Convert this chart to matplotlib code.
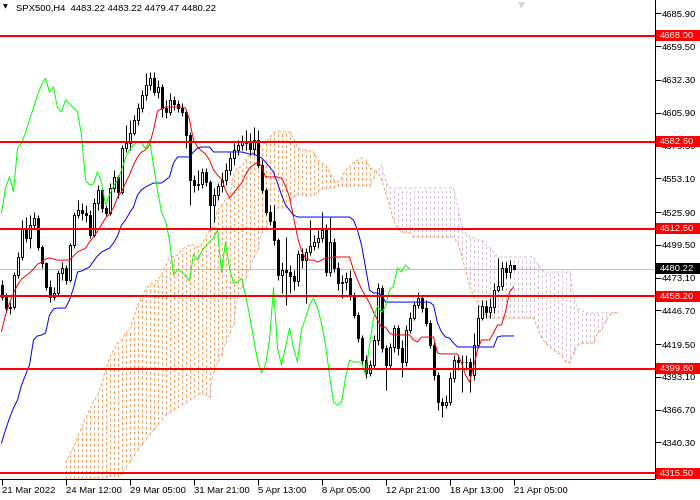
import numpy as np
import matplotlib
matplotlib.use('Agg')
import matplotlib.pyplot as plt
from matplotlib.patches import Rectangle
from matplotlib.transforms import blended_transform_factory

# Cabeçalho do gráfico.
symbol = 'SPX500,H4'
last_ohlc = [4483.22, 4483.22, 4479.47, 4480.22]

# Candles H4.
opens = [
    4467.1, 4457.4, 4448.6, 4449.4, 4475.2, 4489.7, 4513.0, 4505.0, 4515.5, 4521.1,
    4497.7, 4484.8, 4465.5, 4457.4, 4460.7, 4476.8, 4480.8, 4471.1, 4499.4, 4523.5,
    4527.5, 4525.1, 4523.5, 4507.4, 4533.2, 4543.7, 4529.2, 4525.1, 4545.3, 4554.2,
    4542.1, 4577.5, 4581.6, 4589.6, 4600.1, 4609.8, 4620.2, 4628.2, 4633.8, 4622.6,
    4626.6, 4609.8, 4606.5, 4616.2, 4613.0, 4609.8, 4606.5, 4588.0, 4551.7, 4547.7,
    4548.5, 4558.2, 4550.1, 4531.6, 4539.7, 4546.9, 4551.7, 4559.8, 4569.5, 4575.9,
    4580.0, 4582.4, 4581.6, 4576.7, 4584.0, 4563.8, 4543.7, 4525.9, 4518.7, 4503.4,
    4475.2, 4479.2, 4477.6, 4474.4, 4470.3, 4492.1, 4487.2, 4493.7, 4498.5, 4501.8,
    4505.0, 4511.4, 4477.6, 4501.8, 4480.8, 4468.7, 4469.5, 4472.7, 4459.1, 4443.0,
    4424.5, 4406.7, 4396.3, 4402.7, 4422.9, 4464.7, 4416.4, 4402.7, 4417.2, 4432.5,
    4416.4, 4405.1, 4430.9, 4440.5, 4451.0, 4456.6, 4448.6, 4436.5, 4418.8, 4394.7,
    4372.9, 4370.5, 4372.9, 4392.2, 4406.7, 4405.1, 4405.1, 4405.1, 4394.7, 4418.8,
    4440.5, 4450.2, 4445.4, 4449.4, 4463.1, 4466.3, 4480.8, 4477.6, 4483.22]
highs = [
    4471.1, 4460.7, 4453.4, 4477.6, 4493.7, 4519.5, 4521.9, 4523.5, 4525.9, 4523.5,
    4499.4, 4485.6, 4471.1, 4465.5, 4479.2, 4485.6, 4483.2, 4501.0, 4525.9, 4535.6,
    4533.2, 4531.6, 4527.5, 4537.2, 4547.7, 4546.1, 4531.6, 4549.3, 4559.8, 4555.8,
    4580.0, 4596.0, 4600.1, 4604.0, 4613.7, 4624.2, 4637.9, 4638.7, 4638.7, 4632.2,
    4629.0, 4616.2, 4621.8, 4619.3, 4616.2, 4613.7, 4608.1, 4590.4, 4555.8, 4559.8,
    4561.4, 4561.4, 4551.7, 4545.3, 4549.3, 4558.2, 4565.4, 4574.3, 4581.6, 4584.0,
    4588.0, 4592.0, 4589.6, 4594.4, 4592.0, 4567.8, 4545.3, 4531.6, 4531.6, 4505.0,
    4485.6, 4505.8, 4483.2, 4479.2, 4495.3, 4496.9, 4496.9, 4519.5, 4507.4, 4511.4,
    4525.9, 4516.3, 4521.9, 4505.0, 4485.6, 4475.2, 4477.6, 4479.2, 4461.5, 4445.4,
    4426.9, 4410.8, 4406.7, 4426.9, 4468.7, 4467.1, 4418.8, 4420.4, 4434.9, 4434.9,
    4422.9, 4434.9, 4445.4, 4453.4, 4461.5, 4459.1, 4455.1, 4438.9, 4421.3, 4397.1,
    4376.1, 4378.6, 4397.1, 4410.8, 4410.8, 4410.8, 4410.8, 4408.4, 4428.5, 4451.0,
    4455.1, 4455.1, 4456.6, 4468.7, 4488.9, 4485.6, 4485.6, 4487.2, 4483.22]
lows = [
    4455.1, 4445.4, 4443.8, 4447.8, 4472.7, 4487.2, 4501.8, 4496.9, 4513.0, 4495.3,
    4480.8, 4463.1, 4453.4, 4455.1, 4458.2, 4471.1, 4467.9, 4469.5, 4496.9, 4521.1,
    4519.5, 4517.9, 4505.0, 4505.8, 4527.5, 4525.9, 4522.7, 4523.5, 4542.1, 4537.2,
    4540.5, 4574.3, 4575.9, 4588.0, 4596.0, 4606.5, 4616.2, 4624.2, 4620.2, 4617.7,
    4602.5, 4601.6, 4604.0, 4608.1, 4606.5, 4603.3, 4577.5, 4531.6, 4542.1, 4543.7,
    4545.3, 4546.9, 4511.4, 4517.9, 4535.6, 4542.1, 4547.7, 4555.8, 4563.8, 4571.9,
    4575.9, 4575.9, 4571.9, 4571.9, 4561.4, 4541.3, 4523.5, 4515.5, 4499.4, 4471.1,
    4460.7, 4451.0, 4460.7, 4463.1, 4466.3, 4480.8, 4452.6, 4491.3, 4495.3, 4496.9,
    4501.8, 4474.4, 4474.4, 4477.6, 4463.1, 4456.6, 4463.1, 4455.1, 4440.5, 4421.3,
    4402.7, 4392.2, 4393.9, 4400.3, 4418.8, 4413.2, 4382.6, 4400.3, 4413.2, 4410.8,
    4393.1, 4401.9, 4428.5, 4438.9, 4448.6, 4445.4, 4434.1, 4416.4, 4390.6, 4366.4,
    4360.8, 4368.1, 4370.5, 4389.0, 4398.7, 4381.0, 4398.7, 4381.0, 4390.6, 4416.4,
    4438.9, 4440.5, 4440.5, 4444.6, 4461.5, 4463.1, 4472.7, 4472.7, 4479.47]
closes = [
    4457.4, 4448.6, 4449.4, 4475.2, 4489.7, 4513.0, 4505.0, 4515.5, 4521.1, 4497.7,
    4484.8, 4465.5, 4457.4, 4460.7, 4476.8, 4480.8, 4471.1, 4499.4, 4523.5, 4527.5,
    4525.1, 4523.5, 4507.4, 4533.2, 4543.7, 4529.2, 4525.1, 4545.3, 4554.2, 4542.1,
    4577.5, 4581.6, 4589.6, 4600.1, 4609.8, 4620.2, 4628.2, 4633.8, 4622.6, 4626.6,
    4609.8, 4606.5, 4616.2, 4613.0, 4609.8, 4606.5, 4588.0, 4551.7, 4547.7, 4548.5,
    4558.2, 4550.1, 4531.6, 4539.7, 4546.9, 4551.7, 4559.8, 4569.5, 4575.9, 4580.0,
    4582.4, 4581.6, 4576.7, 4584.0, 4563.8, 4543.7, 4525.9, 4518.7, 4503.4, 4475.2,
    4479.2, 4477.6, 4474.4, 4470.3, 4492.1, 4487.2, 4493.7, 4498.5, 4501.8, 4505.0,
    4511.4, 4477.6, 4501.8, 4480.8, 4468.7, 4469.5, 4472.7, 4459.1, 4443.0, 4424.5,
    4406.7, 4396.3, 4402.7, 4422.9, 4464.7, 4416.4, 4402.7, 4417.2, 4432.5, 4416.4,
    4405.1, 4430.9, 4440.5, 4451.0, 4456.6, 4448.6, 4436.5, 4418.8, 4394.7, 4372.9,
    4370.5, 4372.9, 4392.2, 4406.7, 4405.1, 4405.1, 4405.1, 4394.7, 4418.8, 4440.5,
    4450.2, 4445.4, 4449.4, 4463.1, 4466.3, 4480.8, 4477.6, 4483.2, 4480.22]

# Ichimoku: Tenkan-sen e Kijun-sen.
tenkan = [
    4430.0, 4443.0, 4452.6, 4460.7, 4467.1, 4471.9, 4474.4, 4476.8, 4480.0, 4484.0,
    4485.6, 4488.1, 4488.9, 4488.1, 4487.2, 4487.2, 4487.2, 4487.2, 4490.5, 4493.7,
    4495.3, 4496.9, 4501.8, 4505.8, 4510.6, 4515.5, 4521.1, 4524.3, 4529.2, 4538.0,
    4542.1, 4549.3, 4555.8, 4563.8, 4570.3, 4574.3, 4575.9, 4580.0, 4592.0, 4607.3,
    4608.9, 4610.5, 4610.5, 4610.5, 4610.5, 4610.5, 4609.8, 4600.1, 4584.0, 4578.3,
    4575.1, 4572.7, 4567.8, 4559.8, 4555.8, 4552.5, 4543.7, 4537.2, 4541.3, 4545.3,
    4549.3, 4555.8, 4561.4, 4563.8, 4566.2, 4563.0, 4554.2, 4554.2, 4554.2, 4554.2,
    4553.3, 4546.9, 4538.0, 4521.9, 4505.8, 4494.5, 4488.9, 4487.2, 4487.2, 4485.6,
    4487.2, 4488.9, 4488.9, 4489.7, 4489.7, 4489.7, 4489.7, 4489.7, 4479.2, 4471.1,
    4463.9, 4458.2, 4452.6, 4445.4, 4438.9, 4433.3, 4433.3, 4428.5, 4426.9, 4426.9,
    4426.9, 4426.9, 4426.9, 4422.9, 4421.3, 4425.2, 4425.2, 4425.2, 4425.2, 4412.4,
    4411.6, 4411.6, 4411.6, 4411.6, 4411.6, 4404.3, 4394.7, 4389.0, 4401.1, 4414.8,
    4422.9, 4422.9, 4422.9, 4428.5, 4434.9, 4434.9, 4445.4, 4461.5, 4465.5]
kijun = [
    4339.9, 4350.3, 4360.0, 4368.1, 4374.5, 4386.6, 4394.7, 4402.7, 4422.9, 4426.1,
    4426.9, 4428.5, 4443.0, 4447.8, 4448.6, 4448.6, 4448.6, 4455.1, 4464.7, 4477.6,
    4478.4, 4480.0, 4481.6, 4486.4, 4490.5, 4493.7, 4495.3, 4496.9, 4501.0, 4506.6,
    4515.5, 4519.5, 4525.1, 4530.0, 4539.7, 4543.7, 4546.1, 4547.7, 4549.3, 4549.3,
    4549.3, 4551.7, 4554.2, 4565.4, 4570.3, 4570.3, 4570.3, 4570.3, 4574.3, 4577.5,
    4578.3, 4578.3, 4578.3, 4574.3, 4574.3, 4574.3, 4574.3, 4574.3, 4574.3, 4574.3,
    4574.3, 4573.5, 4572.7, 4572.7, 4571.1, 4569.5, 4566.2, 4562.2, 4558.2, 4549.3,
    4539.7, 4531.6, 4527.5, 4523.5, 4521.9, 4521.9, 4521.9, 4521.9, 4521.9, 4521.9,
    4521.9, 4521.9, 4521.9, 4521.9, 4521.9, 4521.9, 4521.9, 4521.9, 4519.5, 4511.4,
    4499.4, 4481.6, 4463.1, 4460.7, 4460.7, 4459.1, 4453.4, 4453.4, 4453.4, 4453.4,
    4453.4, 4453.4, 4453.4, 4453.4, 4453.4, 4453.4, 4453.4, 4453.4, 4451.0, 4436.5,
    4429.3, 4425.2, 4424.5, 4420.4, 4417.2, 4417.2, 4417.2, 4417.2, 4417.2, 4417.2,
    4417.2, 4417.2, 4417.2, 4417.2, 4425.2, 4426.1, 4426.1, 4426.1, 4426.1]

# Senkou Span A e B (26 barras à frente; as primeiras ficam fora da tela).
nan = float('nan')
span_a = [nan] * 16 + [
    4323.7, 4330.2, 4336.6, 4344.7, 4351.9, 4360.0, 4366.4, 4372.9, 4378.6, 4386.6,
    4398.7, 4408.4, 4414.8, 4420.4, 4422.9, 4428.5, 4430.9, 4440.5, 4451.0, 4456.6,
    4463.1, 4467.1, 4469.5, 4471.1, 4475.2, 4483.2, 4488.9, 4490.5, 4491.3, 4495.3,
    4497.7, 4499.4, 4499.4, 4497.7, 4499.4, 4505.0, 4511.4, 4515.5, 4527.5, 4531.6,
    4535.6, 4537.2, 4555.8, 4561.4, 4562.2, 4567.8, 4571.9, 4574.3, 4575.9, 4580.0,
    4581.6, 4585.6, 4589.6, 4590.4, 4590.4, 4590.4, 4590.4, 4585.6, 4578.3, 4575.9,
    4575.9, 4575.1, 4574.3, 4567.8, 4565.4, 4563.8, 4558.2, 4551.7, 4550.1, 4553.3,
    4559.8, 4561.4, 4566.2, 4567.8, 4569.5, 4567.8, 4562.2, 4559.8, 4558.2, 4551.7,
    4542.1, 4531.6, 4519.5, 4513.0, 4509.8, 4509.8, 4509.0, 4505.8, 4505.8, 4505.8,
    4505.8, 4505.8, 4505.8, 4505.8, 4505.8, 4505.8, 4505.8, 4505.8, 4501.0, 4491.3,
    4479.2, 4467.1, 4457.4, 4452.6, 4447.8, 4443.0, 4441.4, 4440.5, 4440.5, 4440.5,
    4440.5, 4440.5, 4440.5, 4440.5, 4440.5, 4440.5, 4440.5, 4440.5, 4433.3, 4424.5,
    4420.4, 4417.2, 4414.8, 4412.4, 4410.8, 4405.1, 4404.3, 4412.4, 4418.8, 4420.4,
    4420.4, 4420.4, 4420.4, 4428.5, 4430.9, 4437.3, 4443.0, 4444.6, 4445.4]
span_b = [nan] * 16 + [
    4280.0, 4280.0, 4280.0, 4280.0, 4280.0, 4280.0, 4280.0, 4280.0, 4302.0, 4306.0,
    4311.6, 4313.3, 4313.3, 4313.3, 4314.9, 4319.7, 4324.5, 4329.4, 4334.2, 4338.3,
    4342.3, 4346.3, 4350.3, 4354.4, 4358.4, 4362.4, 4364.8, 4366.4, 4368.1, 4370.5,
    4372.1, 4374.5, 4376.1, 4378.6, 4380.2, 4378.6, 4377.0, 4397.1, 4405.1, 4410.8,
    4420.4, 4428.5, 4434.9, 4459.1, 4465.5, 4472.7, 4480.8, 4488.9, 4495.3, 4509.0,
    4513.0, 4521.1, 4525.9, 4529.2, 4529.2, 4529.2, 4535.6, 4538.0, 4539.7, 4539.7,
    4538.9, 4538.9, 4539.7, 4542.1, 4544.5, 4545.3, 4545.3, 4545.3, 4546.9, 4546.9,
    4546.9, 4546.9, 4546.9, 4546.9, 4546.9, 4546.9, 4546.9, 4553.3, 4558.2, 4563.8,
    4551.7, 4545.3, 4545.3, 4545.3, 4545.3, 4545.3, 4545.3, 4545.3, 4545.3, 4545.3,
    4545.3, 4545.3, 4545.3, 4545.3, 4545.3, 4545.3, 4545.3, 4545.3, 4531.6, 4515.5,
    4509.0, 4505.8, 4505.0, 4503.4, 4503.4, 4500.2, 4497.7, 4493.7, 4489.7, 4489.7,
    4489.7, 4489.7, 4489.7, 4489.7, 4489.7, 4489.7, 4489.7, 4489.7, 4484.8, 4479.2,
    4477.6, 4477.6, 4477.6, 4477.6, 4477.6, 4477.6, 4477.6, 4459.1, 4448.6, 4447.0,
    4444.6, 4444.6, 4444.6, 4444.6, 4444.6, 4444.6, 4444.6, 4444.6, 4444.6]

# Níveis horizontais (suporte/resistência).
levels = [4668.00, 4582.60, 4512.50, 4458.20, 4399.80, 4315.50]

# Escala de preços e datas.
price_ticks = [4685.90, 4659.50, 4632.30, 4605.90, 4579.50, 4553.10, 4525.90, 4499.50,
               4473.10, 4446.70, 4419.50, 4393.10, 4366.70, 4340.30, 4313.90]
date_ticks = [0, 16, 32, 48, 64, 80, 96, 112, 128]
date_labels = ['21 Mar 2022', '24 Mar 12:00', '29 Mar 05:00', '31 Mar 21:00', '5 Apr 13:00',
               '8 Apr 05:00', '12 Apr 21:00', '18 Apr 13:00', '21 Apr 05:00']

plt.rcParams['font.family'] = ['Liberation Sans', 'DejaVu Sans']
FS = 6.8
LW = 0.72
ORANGE = '#F4A460'
THISTLE = '#D8BFD8'

o = np.array(opens)
h = np.array(highs)
l = np.array(lows)
c = np.array(closes)
idx = np.arange(len(c))
a = np.array(span_a)
b = np.array(span_b)
fidx = np.arange(len(a))

fig = plt.figure(figsize=(7, 5), dpi=100)
ax = fig.add_axes([0, 21 / 500, 655 / 700, 479 / 500])
# Centro das barras no meio do pixel, para traços nítidos.
ax.set_xlim(-0.375, 163.375)
ax.set_ylim(4310.9, 4696.7)

# Nuvem (hachura vertical pontilhada): uma linha por barra.
for i in fidx:
    if np.isnan(a[i]) or np.isnan(b[i]):
        continue
    col = ORANGE if a[i] >= b[i] else THISTLE
    ax.plot([i, i], [min(a[i], b[i]), max(a[i], b[i])], color=col, lw=LW,
            ls=(0, (3, 2.5)), zorder=1)
ax.plot(fidx, a, color=ORANGE, lw=LW, ls=(0, (3, 2)), zorder=1.2)
ax.plot(fidx, b, color=THISTLE, lw=LW, ls=(0, (3, 2)), zorder=1.2)

# Linha do preço atual.
ax.axhline(c[-1], color='#C0C0C0', lw=LW, zorder=1.5)

# Candles.
ax.vlines(idx, l, h, color='black', linewidth=LW, zorder=2)
body_lo = np.minimum(o, c)
body_h = np.maximum(np.abs(c - o), 0.3)
fc = ['white' if cc >= oo else 'black' for oo, cc in zip(o, c)]
ax.bar(idx, body_h, bottom=body_lo, width=0.5, color=fc, edgecolor='black',
       linewidth=LW, zorder=2.5)

# Linhas do Ichimoku.
ax.plot(idx, tenkan, color='#FF0000', lw=LW, zorder=3)
ax.plot(idx, kijun, color='#0000FF', lw=LW, zorder=3)
ax.plot(idx[:-26], c[26:], color='#00FF00', lw=LW, zorder=3)

# Níveis.
for lv in levels:
    ax.axhline(lv, color='#FF0000', lw=1.44, zorder=5)

# Eixos.
for s in ['top', 'left']:
    ax.spines[s].set_visible(False)
for s in ['right', 'bottom']:
    ax.spines[s].set_linewidth(LW)
ax.yaxis.tick_right()
ax.set_yticks(price_ticks)
ax.set_yticklabels(['%.2f' % p for p in price_ticks])
ax.tick_params(axis='y', length=4, width=LW, pad=1, labelsize=FS)
ax.set_xticks(date_ticks)
ax.set_xticklabels(date_labels, ha='left')
ax.tick_params(axis='x', length=4, width=LW, pad=1, labelsize=FS)

# Rótulos coloridos no eixo de preço.
tr = blended_transform_factory(ax.transAxes, ax.transData)
box_h = 11 * (4696.7 - 4310.9) / 479
for lv, bg in [(x, '#FF0000') for x in levels] + [(c[-1], 'black')]:
    ax.add_patch(Rectangle((656 / 655, lv - box_h / 2), 44 / 655, box_h, transform=tr,
                           facecolor=bg, edgecolor='none', clip_on=False, zorder=6))
    ax.text(660 / 655, lv, '%.2f' % lv, transform=tr, color='white', fontsize=FS,
            ha='left', va='center', zorder=7, clip_on=False)

# Cabeçalho e marcador de deslocamento.
fig.text(3 / 700, 1 - 7 / 500, '▼', fontsize=4.5, va='center', ha='left',
         family=['DejaVu Sans'])
fig.text(16 / 700, 1 - 8 / 500, '%s  %s' % (symbol, ' '.join('%.2f' % v for v in last_ohlc)),
         fontsize=FS, va='center', ha='left')
fig.text(521 / 700, 1 - 5 / 500, '▼', fontsize=6.5, va='center', ha='center',
         color='#D3D3D3', family=['DejaVu Sans'])

fig.savefig('out.png', dpi=100)
